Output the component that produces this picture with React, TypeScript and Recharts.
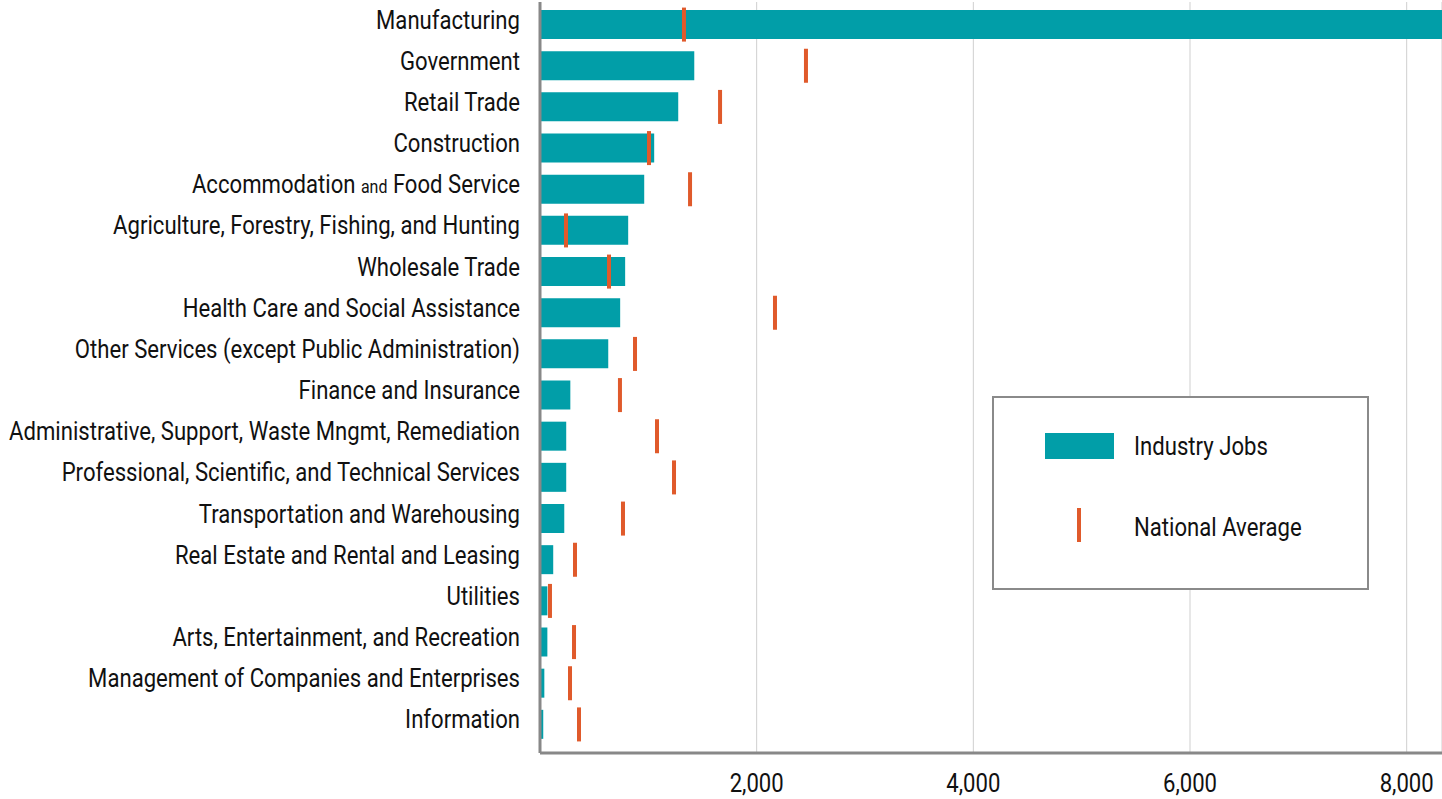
import React from 'react';
import { ComposedChart, Bar, Line, XAxis, YAxis, CartesianGrid, Legend } from 'recharts';

const categories = [
  'Manufacturing',
  'Government',
  'Retail Trade',
  'Construction',
  'Accommodation and Food Service',
  'Agriculture, Forestry, Fishing, and Hunting',
  'Wholesale Trade',
  'Health Care and Social Assistance',
  'Other Services (except Public Administration)',
  'Finance and Insurance',
  'Administrative, Support, Waste Mngmt, Remediation',
  'Professional, Scientific, and Technical Services',
  'Transportation and Warehousing',
  'Real Estate and Rental and Leasing',
  'Utilities',
  'Arts, Entertainment, and Recreation',
  'Management of Companies and Enterprises',
  'Information',
];

const industryJobs = [8400, 1424, 1276, 1054, 962, 814, 786, 740, 630, 280, 242, 242, 224, 122, 68, 68, 40, 30];
const nationalAverage = [1329, 2455, 1662, 1006, 1385, 240, 637, 2169, 877, 738, 1080, 1237, 766, 323, 92, 314, 277, 360];
const xTicks = [2000, 4000, 6000, 8000];

const data = categories.map((name, i) => ({
  name,
  jobs: industryJobs[i],
  natl: nationalAverage[i],
}));

const TEAL = '#019EA8';
const ORANGE = '#E05A2B';
const FONT = 'Roboto, "Noto Sans", sans-serif';
const SX = 0.885;

const YTick = (props: any) => {
  const { x, y, payload } = props;
  const v: string = payload.value;
  return (
    <g transform={`translate(${x},${y + 4}) scale(${SX},1)`}>
      {v === 'Accommodation and Food Service' ? (
        <text x={0} y={0} textAnchor="end" fontSize={25} fill="#111" fontFamily={FONT}>
          <tspan>Accommodation </tspan>
          <tspan fontSize={18}>and</tspan>
          <tspan> Food Service</tspan>
        </text>
      ) : (
        <text x={0} y={0} textAnchor="end" fontSize={25} fill="#111" fontFamily={FONT}>
          {v}
        </text>
      )}
    </g>
  );
};

const XTick = (props: any) => {
  const { x, y, payload } = props;
  return (
    <g transform={`translate(${x},${y + 37}) scale(${SX},1)`}>
      <text x={0} y={0} textAnchor="middle" fontSize={25} fill="#111" fontFamily={FONT}>
        {Number(payload.value).toLocaleString('en-US')}
      </text>
    </g>
  );
};

const Marker = (props: any) => {
  const { cx, cy } = props;
  if (cx == null || cy == null) return null;
  return <rect x={cx - 2} y={cy - 17} width={4} height={34} fill={ORANGE} />;
};

const legendText: React.CSSProperties = {
  position: 'absolute',
  left: 140,
  lineHeight: '28px',
  whiteSpace: 'nowrap',
  transform: `scaleX(${SX})`,
  transformOrigin: 'left center',
};

const LegendBox = () => (
  <div
    style={{
      position: 'relative',
      width: 373,
      height: 190,
      border: '2px solid #8a8a8a',
      background: '#fff',
      fontFamily: FONT,
      fontSize: 25,
      color: '#111',
    }}
  >
    <div style={{ position: 'absolute', left: 51, top: 35, width: 69, height: 26, background: TEAL }} />
    <div style={{ ...legendText, top: 35 }}>Industry Jobs</div>
    <div style={{ position: 'absolute', left: 83, top: 110, width: 4, height: 34, background: ORANGE }} />
    <div style={{ ...legendText, top: 116 }}>National Average</div>
  </div>
);

export default function App() {
  return (
    <div style={{ position: 'absolute', left: 0, top: 0, width: 1442, height: 799, background: '#fff' }}>
      <ComposedChart
        width={1442}
        height={799}
        data={data}
        layout="vertical"
        margin={{ top: 2, right: 0, bottom: 0, left: 0 }}
      >
        <XAxis
          type="number"
          domain={[0, 8326]}
          allowDataOverflow
          ticks={xTicks}
          height={46}
          axisLine={{ stroke: '#888', strokeWidth: 3 }}
          tickLine={false}
          tickSize={0}
          tick={<XTick />}
        />
        <YAxis
          type="category"
          dataKey="name"
          width={540}
          padding={{ top: 2, bottom: 8 }}
          axisLine={{ stroke: '#888', strokeWidth: 3 }}
          tickLine={false}
          tickSize={0}
          tickMargin={20}
          interval={0}
          tick={<YTick />}
        />
        <Bar dataKey="jobs" fill={TEAL} barSize={29} isAnimationActive={false} />
        <CartesianGrid horizontal={false} vertical stroke="#cfcfcf" strokeWidth={1} />
        <Line
          dataKey="natl"
          stroke="none"
          dot={<Marker />}
          activeDot={false}
          isAnimationActive={false}
        />
        <Legend
          layout="vertical"
          align="center"
          verticalAlign="middle"
          wrapperStyle={{ left: 992, top: 396, width: 377 }}
          content={<LegendBox />}
        />
      </ComposedChart>
    </div>
  );
}
